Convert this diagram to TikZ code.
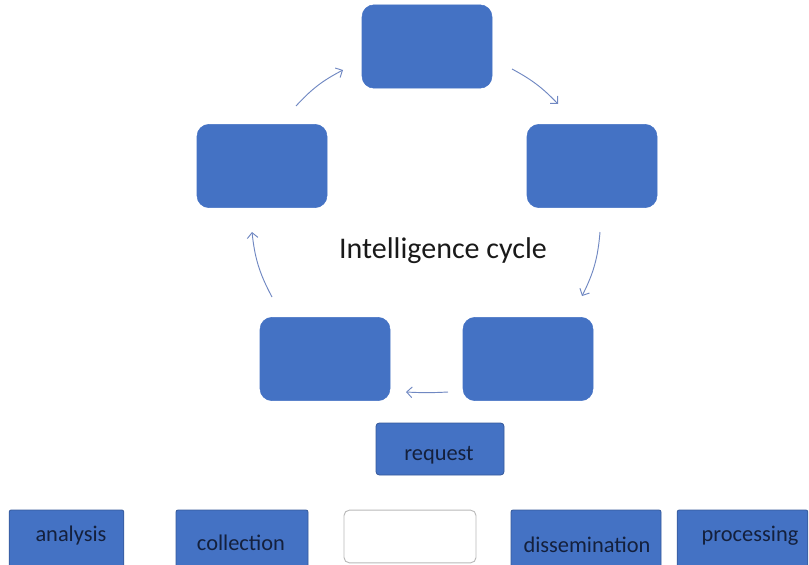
\documentclass[tikz,border=0pt]{standalone}
\usepackage{fontspec}
\setmainfont{Carlito}
\usetikzlibrary{arrows.meta}
\definecolor{boxblue}{HTML}{4472C4}
\definecolor{edgeblue}{HTML}{35599A}
\definecolor{arrblue}{HTML}{7088C2}
\definecolor{txtnavy}{HTML}{14203C}

\begin{document}
\begin{tikzpicture}[x=0.75pt,y=-0.75pt,
  stage/.style={fill=boxblue,draw=boxblue,rounded corners=9pt,minimum width=97.5pt,minimum height=62.5pt,inner sep=0pt},
  card/.style={fill=boxblue,draw=edgeblue,line width=0.6pt,rounded corners=1.5pt,inner sep=0pt},
  word/.style={anchor=base,text=txtnavy,inner sep=0pt,font=\fontsize{16.8}{20}\selectfont},
  cyc/.style={draw=arrblue,line width=0.7pt,-{Straight Barb[length=4pt,width=8pt]}}]
%\draw[help lines] (0,0) grid[step=50] (809,564);
\useasboundingbox (0,0) rectangle (809,564);
\clip (0,0) rectangle (809,564);

% cycle
\node[stage] (top) at (427,46.5) {};
\node[stage] (left) at (262,166) {};
\node[stage] (right) at (592,166) {};
\node[stage] (botleft) at (325,359) {};
\node[stage] (botright) at (528,359) {};
\node[anchor=base,text=black!90,font=\fontsize{22.5}{26}\selectfont,inner sep=0pt] (title) at (443,258) {Intelligence cycle};

\coordinate (a1) at (296,106); \coordinate (b1) at (343,70);
\coordinate (a2) at (512,69);  \coordinate (b2) at (558,104);
\coordinate (a3) at (600,232); \coordinate (b3) at (582,296);
\coordinate (a4) at (448,392); \coordinate (b4) at (406,392);
\coordinate (a5) at (272,297); \coordinate (b5) at (252,232);
\draw[cyc] (a1) to[bend left=10] (b1);
\draw[cyc] (a2) to[bend left=9] (b2);
\draw[cyc] (a3) to[bend left=11] (b3);
\draw[cyc] (a4) to[bend left=3] (b4);
\draw[cyc] (a5) to[bend left=11] (b5);

% cards
\node[card,rounded corners=2.5pt,minimum width=96pt,minimum height=39pt] (request) at (440,449) {};
\node[word] (request-t) at (439,460) {request};

\node[card,minimum width=86pt,minimum height=60pt] (analysis) at (66.5,550) {};
\node[card,minimum width=99pt,minimum height=60pt] (collection) at (242,550) {};
\node[draw=gray!55,fill=white,line width=0.7pt,rounded corners=4pt,minimum width=99pt,minimum height=39.5pt,inner sep=0pt] (blank) at (410,536.5) {};
\node[card,minimum width=112.5pt,minimum height=60pt] (dissemination) at (586,550) {};
\node[card,minimum width=98pt,minimum height=60pt] (processing) at (742.5,550) {};

\node[word] (analysis-t) at (71,541) {analysis};
\node[word] (collection-t) at (241,550) {collection};
\node[word] (dissemination-t) at (587,552) {dissemination};
\node[word] (processing-t) at (750,541) {processing};

\end{tikzpicture}
\end{document}
